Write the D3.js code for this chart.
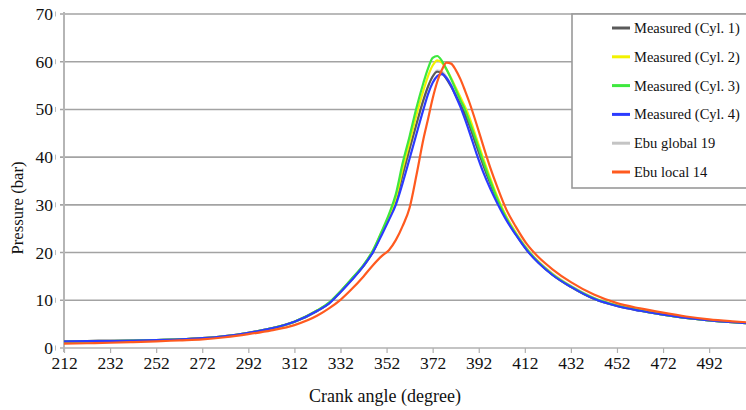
<!DOCTYPE html>
<html>
<head>
<meta charset="utf-8">
<script src="https://cdn.jsdelivr.net/npm/d3@7"></script>
<style>
  html, body { margin: 0; padding: 0; background: #fff; }
  svg { display: block; }
</style>
</head>
<body>
<svg id="chart" width="746" height="410"></svg>
<script>
// Crank angle sample points (degree)
const crankAngles = [212, 222, 232, 242, 252, 262, 272, 282, 292, 302,
  312, 322, 327, 332, 337, 342, 346, 350, 353, 356,
  359, 362, 365, 368, 370, 372, 374, 376, 378, 380,
  382, 384, 386, 388, 391, 394, 397, 400, 404, 408,
  413, 418, 424, 432, 442, 452, 462, 472, 482, 492,
  502, 508];

// Cylinder pressure (bar) per series
const measuredCyl1 = [1.4, 1.45, 1.5, 1.55, 1.65, 1.8, 2.05, 2.5, 3.2, 4.1,
  5.5, 7.8, 9.4, 11.8, 14.4, 17.2, 20.1, 24.2, 27.4, 30.9,
  36.4, 41.8, 47.0, 52.0, 54.8, 56.9, 57.9, 57.6, 56.4, 54.8,
  53.0, 51.1, 49.0, 46.6, 42.4, 38.3, 34.5, 31.0, 27.1, 23.9,
  20.5, 17.9, 15.4, 12.8, 10.3, 8.8, 7.8, 7.0, 6.3, 5.8,
  5.4, 5.2];
const measuredCyl2 = [1.4, 1.45, 1.5, 1.55, 1.65, 1.8, 2.05, 2.5, 3.2, 4.1,
  5.5, 7.9, 9.4, 11.8, 14.5, 17.3, 20.3, 24.4, 27.6, 31.4,
  37.6, 43.2, 48.9, 54.0, 57.0, 59.2, 60.3, 59.8, 58.4, 56.6,
  54.6, 52.6, 50.6, 48.3, 44.0, 39.7, 35.6, 31.8, 27.5, 24.2,
  20.7, 18.0, 15.5, 12.9, 10.4, 8.9, 7.9, 7.0, 6.3, 5.8,
  5.4, 5.2];
const measuredCyl3 = [1.35, 1.4, 1.45, 1.55, 1.65, 1.8, 2.0, 2.45, 3.15, 4.1,
  5.5, 7.9, 9.5, 11.9, 14.6, 17.4, 20.4, 24.6, 28.0, 32.2,
  38.8, 44.4, 50.4, 55.6, 58.6, 60.8, 61.2, 60.2, 58.4, 56.4,
  54.2, 52.0, 50.0, 47.4, 43.3, 39.0, 35.0, 31.3, 27.2, 24.0,
  20.6, 17.9, 15.4, 12.9, 10.4, 8.9, 7.9, 7.0, 6.3, 5.8,
  5.4, 5.2];
const measuredCyl4 = [1.4, 1.45, 1.5, 1.55, 1.65, 1.8, 2.05, 2.5, 3.2, 4.1,
  5.5, 7.8, 9.3, 11.7, 14.3, 17.2, 20.0, 23.8, 26.8, 30.0,
  34.6, 39.7, 44.9, 50.0, 53.2, 55.6, 57.0, 57.4, 56.6, 55.0,
  52.8, 50.6, 48.0, 45.2, 40.8, 36.8, 33.4, 30.4, 26.8, 23.8,
  20.4, 17.8, 15.3, 12.8, 10.3, 8.8, 7.8, 7.0, 6.3, 5.8,
  5.4, 5.2];
const ebuGlobal19 = [1.3, 1.35, 1.4, 1.5, 1.6, 1.75, 2.0, 2.45, 3.1, 4.0,
  5.4, 7.7, 9.3, 11.7, 14.3, 17.1, 20.0, 24.0, 27.2, 30.8,
  36.0, 41.5, 46.8, 51.8, 54.8, 57.0, 58.2, 58.0, 56.9, 55.3,
  53.5, 51.6, 49.6, 47.3, 43.1, 39.0, 35.2, 31.6, 27.6, 24.4,
  20.9, 18.2, 15.7, 13.1, 10.6, 9.0, 8.0, 7.1, 6.4, 5.9,
  5.5, 5.3];
const ebuLocal14 = [0.9, 1.0, 1.1, 1.25, 1.4, 1.6, 1.8, 2.25, 2.9, 3.7,
  4.8, 6.8, 8.3, 10.1, 12.4, 15.0, 17.3, 19.3, 20.5, 22.6,
  25.6, 29.4, 36.3, 43.8, 48.0, 52.3, 55.8, 58.3, 59.8, 59.6,
  58.3, 56.4, 54.0, 51.4, 47.0, 42.3, 37.8, 33.8, 29.0, 25.5,
  21.7, 19.0, 16.5, 13.8, 11.2, 9.4, 8.3, 7.4, 6.6, 6.0,
  5.6, 5.4];

// Axis ticks
const xTicks = [212, 232, 252, 272, 292, 312, 332, 352, 372, 392, 412, 432, 452, 472, 492];
const yTicks = [0, 10, 20, 30, 40, 50, 60, 70];

// Series in legend order
const seriesNames = ["Measured (Cyl. 1)", "Measured (Cyl. 2)", "Measured (Cyl. 3)",
  "Measured (Cyl. 4)", "Ebu global 19", "Ebu local 14"];
const seriesValues = [measuredCyl1, measuredCyl2, measuredCyl3, measuredCyl4, ebuGlobal19, ebuLocal14];
const seriesColors = ["#5a5a5a", "#f2f200", "#3ee83e", "#2b3bff", "#c4c4c4", "#ff5a1f"];
const drawOrder = [4, 0, 1, 2, 3, 5];

const FAMILY = '"Liberation Serif"';

const svg = d3.select("#chart");
const W = 746, H = 410;

const x = d3.scaleLinear().domain([212, 508]).range([64, 746]);
const y = d3.scaleLinear().domain([0, 70]).range([348, 14]);

svg.append("defs").append("clipPath").attr("id", "plotClip")
  .append("rect").attr("x", 64).attr("y", 0).attr("width", W - 64).attr("height", 350);

// Horizontal gridlines
const grid = svg.append("g");
grid.selectAll("line.grid").data(yTicks.filter(d => d > 0)).join("line")
  .attr("x1", 60).attr("x2", W)
  .attr("y1", d => y(d)).attr("y2", d => y(d))
  .attr("stroke", "#a3a3a3").attr("stroke-width", 1.6);

// Small marks next to the y labels
grid.selectAll("line.ymark").data(yTicks).join("line")
  .attr("x1", 55.5).attr("x2", 55.5)
  .attr("y1", d => y(d) - 2.5).attr("y2", d => y(d) + 2.5)
  .attr("stroke", "#bbb").attr("stroke-width", 1);

// Bottom axis with ticks
const xAxis = svg.append("g").attr("transform", "translate(0,348)")
  .call(d3.axisBottom(x).tickValues(xTicks).tickSize(5).tickSizeOuter(0).tickFormat(d3.format("d")));
xAxis.attr("font-family", FAMILY).attr("font-size", 17.5);
xAxis.select(".domain").attr("stroke", "#b0b0b0").attr("stroke-width", 1.6)
  .attr("d", `M60,0H${W}`);
xAxis.selectAll(".tick line").attr("stroke", "#b0b0b0").attr("stroke-width", 1.2);
xAxis.selectAll(".tick text")
  .attr("y", 9).attr("dy", "0.71em")
  .attr("font-family", FAMILY).attr("font-size", 17.5).attr("fill", "#111");

// Left axis line
svg.append("line").attr("x1", 64).attr("x2", 64).attr("y1", 12).attr("y2", 352)
  .attr("stroke", "#b5b5b5").attr("stroke-width", 2);

// Y labels
svg.append("g").selectAll("text").data(yTicks).join("text")
  .attr("x", 53).attr("y", d => y(d) + 6)
  .attr("text-anchor", "end")
  .attr("font-family", FAMILY).attr("font-size", 17.5).attr("fill", "#111")
  .text(d => d);

// Lines
const line = d3.line()
  .x((d, i) => x(crankAngles[i]))
  .y(d => y(d))
  .curve(d3.curveMonotoneX);

const lines = svg.append("g").attr("clip-path", "url(#plotClip)");
drawOrder.forEach(k => {
  lines.append("path")
    .datum(seriesValues[k])
    .attr("d", line)
    .attr("fill", "none")
    .attr("stroke", seriesColors[k])
    .attr("stroke-width", k === 4 ? 1.6 : 2.2)
    .attr("stroke-linejoin", "round");
});

// Legend
const legend = svg.append("g");
legend.append("rect")
  .attr("x", 572).attr("y", 14).attr("width", 190).attr("height", 174)
  .attr("fill", "#fff").attr("stroke", "#999").attr("stroke-width", 1.6);
const rowY = d3.scaleLinear().domain([0, 5]).range([28, 172]);
seriesNames.forEach((name, i) => {
  legend.append("line")
    .attr("x1", 612).attr("x2", 630)
    .attr("y1", rowY(i)).attr("y2", rowY(i))
    .attr("stroke", seriesColors[i]).attr("stroke-width", 3);
  legend.append("text")
    .attr("x", 634).attr("y", rowY(i) + 5)
    .attr("font-family", FAMILY).attr("font-size", 14.5).attr("fill", "#111")
    .text(name);
});

// Axis titles
svg.append("text")
  .attr("transform", "translate(23,208) rotate(-90)")
  .attr("text-anchor", "middle")
  .attr("font-family", FAMILY).attr("font-size", 16.7).attr("fill", "#111")
  .text("Pressure (bar)");
svg.append("text")
  .attr("x", 385).attr("y", 402)
  .attr("text-anchor", "middle")
  .attr("font-family", FAMILY).attr("font-size", 18).attr("fill", "#111")
  .text("Crank angle (degree)");
</script>
</body>
</html>
